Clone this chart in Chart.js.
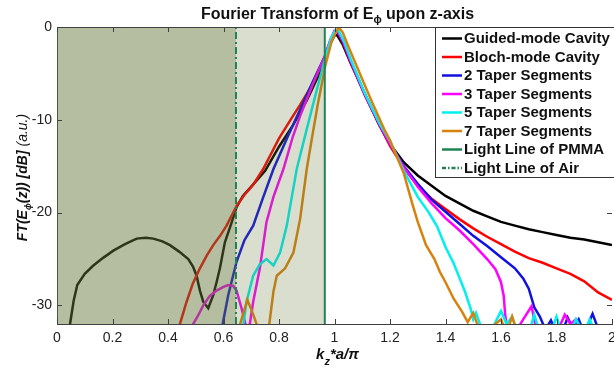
<!DOCTYPE html>
<html>
<head>
<meta charset="utf-8">
<script src="https://cdn.jsdelivr.net/npm/chart.js@4.4.1/dist/chart.umd.min.js"></script>
<style>
  html, body { margin: 0; padding: 0; background: #fff; }
</style>
</head>
<body>
<canvas id="ftChart" width="614" height="369"></canvas>
<script>
// k_z*a/pi and FT magnitude (dB)
const kGuided = [0.04, 0.047, 0.06, 0.073, 0.1, 0.131, 0.165, 0.203, 0.245, 0.287, 0.32, 0.347, 0.38, 0.407, 0.44, 0.473, 0.49, 0.503, 0.515, 0.527, 0.545, 0.563, 0.575, 0.587, 0.605, 0.63, 0.647, 0.67, 0.7, 0.75, 0.8, 0.85, 0.9, 0.94, 0.966, 0.985, 1.0, 1.01, 1.03, 1.06, 1.1, 1.16, 1.2, 1.25, 1.3, 1.35, 1.4, 1.45, 1.5, 1.55, 1.6, 1.65, 1.7, 1.75, 1.8, 1.85, 1.9, 1.95, 2.0];
const dbGuided = [-34, -32, -29.5, -27.8, -26.6, -25.7, -24.9, -24.1, -23.4, -22.8, -22.7, -22.8, -23.1, -23.5, -24.2, -25.0, -25.8, -26.8, -28.4, -29.6, -30.3, -28.9, -27.5, -26.0, -23.2, -21.0, -19.4, -18.2, -17.2, -15.5, -12.9, -10.6, -7.9, -5.4, -3.3, -1.8, -0.9, -0.9, -1.9, -4.0, -6.6, -10.5, -12.6, -14.6, -16.0, -17.1, -18.2, -19.0, -19.8, -20.4, -21.0, -21.4, -21.8, -22.1, -22.4, -22.7, -22.9, -23.2, -23.5];

const kBloch = [0.44, 0.443, 0.467, 0.49, 0.515, 0.54, 0.563, 0.59, 0.611, 0.647, 0.675, 0.707, 0.743, 0.8, 0.85, 0.876, 0.92, 0.966, 0.985, 1.0, 1.01, 1.03, 1.056, 1.11, 1.164, 1.2, 1.25, 1.3, 1.35, 1.4, 1.45, 1.5, 1.55, 1.6, 1.65, 1.7, 1.75, 1.8, 1.85, 1.9, 1.95, 2.0];
const dbBloch = [-34, -32, -29.6, -27.6, -26.0, -24.6, -23.5, -22.4, -21.4, -19.3, -18.1, -17.0, -15.3, -12.0, -9.6, -8.4, -6.2, -3.2, -1.5, -0.5, -0.5, -1.6, -3.6, -7.4, -10.7, -12.8, -15.2, -17.1, -18.5, -19.6, -20.7, -21.7, -22.6, -23.4, -24.2, -24.9, -25.4, -26.0, -26.6, -27.4, -28.6, -29.4];

const kTaper2 = [0.59, 0.597, 0.617, 0.647, 0.675, 0.707, 0.74, 0.78, 0.83, 0.876, 0.92, 0.966, 0.985, 1.0, 1.01, 1.03, 1.056, 1.11, 1.164, 1.2, 1.25, 1.3, 1.35, 1.4, 1.45, 1.5, 1.55, 1.6, 1.65, 1.68, 1.7, 1.72, 1.74, 1.76, 1.78, 1.8, 1.82, 1.84, 1.86, 1.88, 1.9, 1.93, 1.95, 1.98];
const dbTaper2 = [-34, -32, -28.9, -25.3, -23.0, -21.4, -18.6, -15.3, -11.9, -8.9, -6.0, -3.1, -1.5, -0.5, -0.5, -1.5, -3.5, -7.3, -10.6, -12.6, -15.0, -16.9, -18.6, -19.9, -21.2, -22.5, -23.6, -24.8, -26.0, -27.1, -28.2, -30.2, -31.2, -32.6, -31.6, -33, -33, -31.3, -32.5, -31.5, -33, -30.9, -32.5, -34];

const kTaper3 = [0.485, 0.491, 0.51, 0.527, 0.55, 0.575, 0.6, 0.617, 0.635, 0.647, 0.665, 0.683, 0.695, 0.707, 0.731, 0.755, 0.78, 0.816, 0.85, 0.876, 0.92, 0.966, 0.985, 1.0, 1.01, 1.03, 1.056, 1.11, 1.164, 1.2, 1.25, 1.3, 1.35, 1.4, 1.45, 1.5, 1.55, 1.58, 1.6, 1.61, 1.615, 1.625, 1.65, 1.68, 1.71, 1.73, 1.76, 1.8, 1.83, 1.85, 1.87, 1.89, 1.92];
const dbTaper3 = [-34, -32, -31.0, -30.0, -29.0, -28.4, -28.0, -27.8, -27.9, -28.4, -30.3, -32.5, -32.0, -29.6, -26.0, -21.0, -18.3, -15.3, -11.8, -9.6, -6.3, -3.1, -1.4, -0.4, -0.4, -1.5, -3.5, -7.3, -10.6, -12.6, -15.1, -17.2, -19.0, -20.6, -21.9, -23.4, -25.0, -26.1, -27.5, -29.0, -31.0, -33, -33, -31.5, -30.1, -33, -33, -33, -31, -32, -31.5, -33, -34];

const kTaper5 = [0.665, 0.672, 0.683, 0.707, 0.73, 0.755, 0.78, 0.804, 0.828, 0.845, 0.864, 0.9, 0.93, 0.966, 0.99, 1.005, 1.015, 1.035, 1.06, 1.11, 1.164, 1.2, 1.25, 1.3, 1.34, 1.37, 1.4, 1.43, 1.45, 1.47, 1.49, 1.5, 1.51, 1.53, 1.56, 1.6, 1.62, 1.64, 1.66, 1.7, 1.72, 1.74, 1.78, 1.8, 1.82, 1.85, 1.87, 1.9, 1.92, 1.94];
const dbTaper5 = [-34, -32, -29.6, -26.8, -25.6, -25.0, -25.7, -24.3, -21.4, -18.5, -15.3, -11.0, -7.5, -3.4, -1.0, -0.3, -0.4, -1.6, -3.6, -7.2, -10.5, -12.3, -15.5, -18.3, -20.0, -21.5, -23.7, -25.5, -27.0, -28.5, -30.3, -31.5, -30.8, -32.5, -33, -30.6, -32, -31.2, -33, -33, -31, -33, -33, -31.2, -33, -33, -31.5, -33, -31.5, -33];

const kTaper7 = [0.655, 0.66, 0.686, 0.705, 0.725, 0.745, 0.76, 0.765, 0.78, 0.792, 0.822, 0.852, 0.876, 0.9, 0.918, 0.94, 0.966, 0.99, 1.015, 1.03, 1.05, 1.074, 1.128, 1.182, 1.2, 1.25, 1.28, 1.3, 1.33, 1.36, 1.38, 1.4, 1.43, 1.46, 1.48, 1.5, 1.52, 1.55, 1.58, 1.6, 1.62, 1.64, 1.66, 1.7];
const dbTaper7 = [-34, -32, -29.4, -30.8, -32.5, -34, -34, -32, -28.5, -26.8, -26.0, -24.3, -20.7, -15.3, -12.1, -8.3, -4.3, -1.5, 0, -0.6, -2.1, -3.8, -7.6, -11.2, -12.2, -15.8, -19.0, -21.0, -23.5, -25.0, -26.4, -27.5, -29.3, -30.7, -31.8, -30.8, -32.5, -33, -32, -31.5, -33, -31.2, -33, -34];

// light lines and shaded regions
const kLightPMMA = 0.965;
const kLightAir = 0.645;
const dbRange = [-32, 0];
const xTicks = [0, 0.2, 0.4, 0.6, 0.8, 1, 1.2, 1.4, 1.6, 1.8, 2];
const yTicks = [-30, -20, -10, 0];

const zip = (xs, ys) => xs.map((x, i) => ({ x, y: ys[i] }));
const FONT = 'Arial, "Liberation Sans", sans-serif';
const GREEN = "#1f8452";

function curve(label, xs, ys, color, order) {
  return {
    label, data: zip(xs, ys), borderColor: color, backgroundColor: color,
    borderWidth: 2.5, pointRadius: 0, tension: 0, fill: false, order, clip: 0
  };
}

const datasets = [
  curve("Guided-mode Cavity", kGuided, dbGuided, "#000000", 9),
  curve("Bloch-mode Cavity", kBloch, dbBloch, "#ff0000", 8),
  curve("2 Taper Segments", kTaper2, dbTaper2, "#1010e0", 7),
  curve("3 Taper Segments", kTaper3, dbTaper3, "#ff00ff", 6),
  curve("5 Taper Segments", kTaper5, dbTaper5, "#00f0f0", 5),
  curve("7 Taper Segments", kTaper7, dbTaper7, "#d8820e", 4),
  {
    label: "Light Line of PMMA",
    data: [{ x: kLightPMMA, y: dbRange[0] }, { x: kLightPMMA, y: dbRange[1] }],
    borderColor: GREEN, borderWidth: 2, pointRadius: 0, order: 0, clip: 0
  },
  {
    label: "Light Line of Air",
    data: [{ x: kLightAir, y: dbRange[0] }, { x: kLightAir, y: dbRange[1] }],
    borderColor: GREEN, borderWidth: 2, borderDash: [7, 3, 2, 3], pointRadius: 0, order: 0, clip: 0
  },
  // shaded bands (drawn over the curves, semi transparent)
  {
    label: "_bandLight",
    data: [{ x: 0, y: dbRange[1] }, { x: kLightPMMA, y: dbRange[1] }],
    borderWidth: 0, pointRadius: 0, fill: "start",
    backgroundColor: "rgba(96,117,53,0.24)", order: 2, clip: 0
  },
  {
    label: "_bandDark",
    data: [{ x: 0, y: dbRange[1] }, { x: kLightAir, y: dbRange[1] }],
    borderWidth: 0, pointRadius: 0, fill: "start",
    backgroundColor: "rgba(96,117,53,0.30)", order: 1, clip: 0
  }
];

// draws text made of pieces (for subscripts), centered on x
function drawRich(ctx, parts, x, y) {
  let total = 0;
  parts.forEach(p => { ctx.font = p.font; total += ctx.measureText(p.t).width; });
  let cx = x - total / 2;
  parts.forEach(p => {
    ctx.font = p.font;
    ctx.fillText(p.t, cx, y + (p.dy || 0));
    cx += ctx.measureText(p.t).width;
  });
}

const decorations = {
  id: "decorations",
  afterDraw(chart) {
    const { ctx, chartArea: a, scales } = chart;
    ctx.save();

    // axes box (top) and inward ticks
    ctx.strokeStyle = "#404040";
    ctx.lineWidth = 1;
    ctx.beginPath();
    ctx.moveTo(a.left, a.top + 0.5);
    ctx.lineTo(a.right, a.top + 0.5);
    xTicks.forEach(v => {
      const px = Math.round(scales.x.getPixelForValue(v)) + 0.5;
      ctx.moveTo(px, a.bottom); ctx.lineTo(px, a.bottom - 5);
      ctx.moveTo(px, a.top); ctx.lineTo(px, a.top + 5);
    });
    yTicks.forEach(v => {
      const py = Math.round(scales.y.getPixelForValue(v)) + 0.5;
      ctx.moveTo(a.left, py); ctx.lineTo(a.left + 5, py);
      ctx.moveTo(a.right, py); ctx.lineTo(a.right - 5, py);
    });
    ctx.stroke();

    // legend box
    const lx = a.right - 177, ly = a.top, lw = 190, lh = 150;
    ctx.fillStyle = "#fff";
    ctx.fillRect(lx, ly, lw, lh);
    ctx.strokeStyle = "#333";
    ctx.strokeRect(lx + 0.5, ly + 0.5, lw, lh);
    ctx.font = "bold 15px " + FONT;
    ctx.textBaseline = "middle";
    ctx.textAlign = "left";
    chart.data.datasets.filter(d => !d.label.startsWith("_")).forEach((d, i) => {
      const y = ly + 11.5 + i * 18.5;
      ctx.strokeStyle = d.borderColor;
      ctx.lineWidth = 2.5;
      ctx.setLineDash(d.borderDash ? [4, 2, 1.5, 2] : []);
      ctx.beginPath();
      ctx.moveTo(lx + 7, y); ctx.lineTo(lx + 27, y);
      ctx.stroke();
      ctx.setLineDash([]);
      ctx.fillStyle = "#111";
      ctx.fillText(d.label, lx + 29, y + 0.5);
    });

    // title and axis titles
    ctx.fillStyle = "#111";
    ctx.textBaseline = "alphabetic";
    const B16 = "bold 16px " + FONT;
    const cxPlot = (a.left + a.right) / 2 + 3;
    drawRich(ctx, [
      { t: "Fourier Transform of E", font: B16 },
      { t: "\u03d5", font: "bold 11px " + FONT, dy: 4 },
      { t: " upon z-axis", font: B16 }
    ], cxPlot, 19);

    drawRich(ctx, [
      { t: "k", font: "italic bold 15px " + FONT },
      { t: "z", font: "italic bold 11px " + FONT, dy: 6 },
      { t: "*a/\u03c0", font: "italic bold 15px " + FONT }
    ], cxPlot, 359);

    ctx.translate(22, (a.top + a.bottom) / 2 + 2);
    ctx.rotate(-Math.PI / 2);
    drawRich(ctx, [
      { t: "FT(E", font: "italic bold 14px " + FONT },
      { t: "\u03d5", font: "italic bold 9px " + FONT, dy: 4 },
      { t: "(z)) [dB] ", font: "italic bold 14px " + FONT },
      { t: "(a.u.)", font: "italic 14px " + FONT }
    ], 0, 5);
    ctx.restore();
  }
};

new Chart(document.getElementById("ftChart").getContext("2d"), {
  type: "line",
  data: { datasets },
  options: {
    responsive: false,
    animation: false,
    devicePixelRatio: 1,
    layout: { padding: { top: 27, right: 2, left: 0, bottom: 0 } },
    plugins: {
      legend: { display: false },
      tooltip: { enabled: false }
    },
    scales: {
      x: {
        type: "linear",
        min: 0,
        max: 2,
        afterBuildTicks: scale => { scale.ticks = xTicks.map(v => ({ value: v })); },
        afterFit: scale => { scale.height = 45; scale.paddingLeft = 0; scale.paddingRight = 0; },
        grid: { display: true, drawOnChartArea: false, drawTicks: false, color: "#404040" },
        border: { color: "#404040" },
        ticks: {
          padding: 6,
          color: "#222",
          font: { size: 14, family: FONT },
          callback: v => String(+Number(v).toFixed(1))
        }
      },
      y: {
        min: dbRange[0],
        max: dbRange[1],
        afterBuildTicks: scale => { scale.ticks = yTicks.map(v => ({ value: v })); },
        afterFit: scale => { scale.width = 57; scale.paddingTop = 0; scale.paddingBottom = 0; },
        grid: { display: true, drawOnChartArea: false, drawTicks: false, color: "#404040" },
        border: { color: "#404040" },
        ticks: {
          padding: 5,
          color: "#222",
          font: { size: 14, family: FONT },
          callback: v => String(v)
        }
      }
    }
  },
  plugins: [decorations]
});
</script>
</body>
</html>
